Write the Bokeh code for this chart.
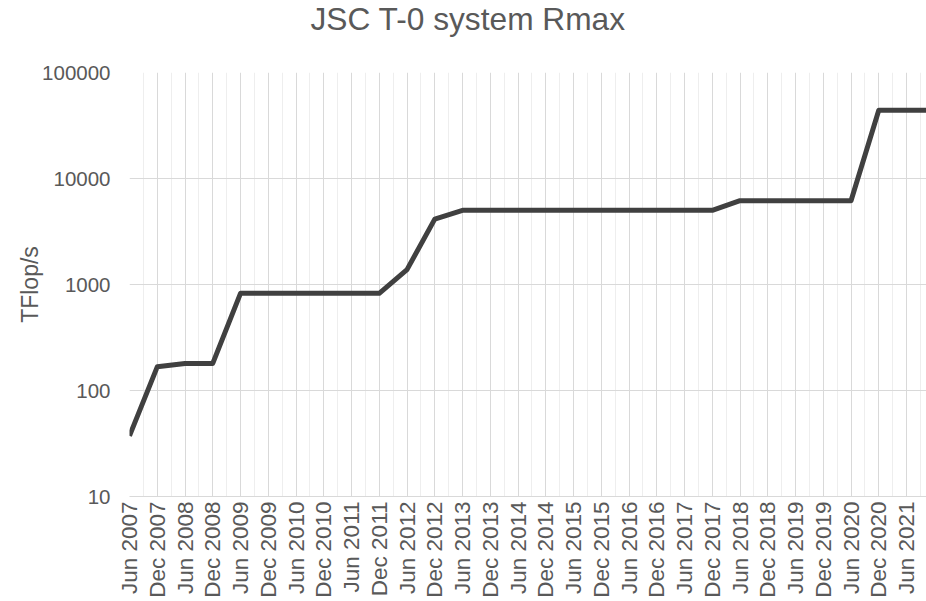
import math
from bokeh.plotting import figure
from bokeh.models import Range1d, FixedTicker, CustomJSTickFormatter, PrintfTickFormatter
from bokeh.embed import file_html
from bokeh.resources import INLINE

# TOP500 list dates (index positions on the x axis) and JSC top system Rmax (TFlop/s)
dates = ["Jun 2007", "Dec 2007", "Jun 2008", "Dec 2008", "Jun 2009", "Dec 2009",
         "Jun 2010", "Dec 2010", "Jun 2011", "Dec 2011", "Jun 2012", "Dec 2012",
         "Jun 2013", "Dec 2013", "Jun 2014", "Dec 2014", "Jun 2015", "Dec 2015",
         "Jun 2016", "Dec 2016", "Jun 2017", "Dec 2017", "Jun 2018", "Dec 2018",
         "Jun 2019", "Dec 2019", "Jun 2020", "Dec 2020", "Jun 2021", "Dec 2021"]
rmax = [37.33, 167.3, 180.0, 180.0, 825.5, 825.5,
        825.5, 825.5, 825.5, 825.5, 1380.4, 4141.2,
        5008.9, 5008.9, 5008.9, 5008.9, 5008.9, 5008.9,
        5008.9, 5008.9, 5008.9, 5008.9, 6177.7, 6177.7,
        6177.7, 6177.7, 6177.7, 44120.0, 44120.0, 44120.0]
tick_labels = dates[:29]
y_ticks = [10, 100, 1000, 10000, 100000]
title_text = "JSC T-0 system Rmax"
y_label = "TFlop/s"

xs = list(range(len(dates)))

FONT = "Liberation Sans"
TXT = "#595959"

p = figure(width=926, height=600, y_axis_type="log",
           x_range=Range1d(0, 28.72), y_range=Range1d(10, 100000),
           output_backend="svg", toolbar_location=None,
           min_border_left=129, min_border_right=0, min_border_top=71,
           min_border_bottom=102, title=title_text + "\n")

p.title.align = "left"
p.title.offset = 181
p.title.standoff = 0
p.title.vertical_align = "top"
p.title.text_line_height = 0.95
p.title.text_font = FONT
p.title.text_font_size = "31.7px"
p.title.text_font_style = "normal"
p.title.text_color = TXT

p.line(xs, rmax, line_color="#404040", line_width=5, line_join="round")

p.outline_line_color = None

# x axis
xax = p.xaxis[0]
xax.ticker = FixedTicker(ticks=list(range(len(tick_labels))),
                         minor_ticks=[i + 0.5 for i in range(len(tick_labels))])
xax.formatter = CustomJSTickFormatter(args=dict(labels=tick_labels),
                                      code="const i = Math.round(tick); return (i >= 0 && i < labels.length) ? labels[i] : '';")
xax.major_label_orientation = math.pi / 2
xax.major_label_text_font = FONT
xax.major_label_text_font_size = "22.5px"
xax.major_label_text_color = TXT
xax.major_label_standoff = 5
xax.major_tick_out = 0
xax.major_tick_in = 0
xax.minor_tick_out = 0
xax.minor_tick_in = 0
xax.major_tick_line_color = None
xax.minor_tick_line_color = None
xax.axis_line_color = "#d9d9d9"
xax.axis_line_width = 1

# y axis
yax = p.yaxis[0]
yax.ticker = FixedTicker(ticks=y_ticks, minor_ticks=[])
yax.formatter = PrintfTickFormatter(format="%d")
yax.major_label_text_font = FONT
yax.major_label_text_font_size = "20.5px"
yax.major_label_text_color = TXT
yax.major_label_standoff = 19
yax.major_tick_out = 0
yax.major_tick_in = 0
yax.minor_tick_out = 0
yax.minor_tick_in = 0
yax.major_tick_line_color = None
yax.minor_tick_line_color = None
yax.axis_line_color = None
yax.axis_label = y_label
yax.axis_label_text_font = FONT
yax.axis_label_text_font_size = "23px"
yax.axis_label_text_font_style = "normal"
yax.axis_label_text_color = TXT
yax.axis_label_standoff = -4

p.xgrid.grid_line_color = "#d9d9d9"
p.xgrid.grid_line_width = 1
p.xgrid.minor_grid_line_color = "#eeeeee"
p.xgrid.minor_grid_line_width = 1
p.ygrid.grid_line_color = "#d9d9d9"
p.ygrid.grid_line_width = 1

open("out.html", "w").write(file_html(p, INLINE))
